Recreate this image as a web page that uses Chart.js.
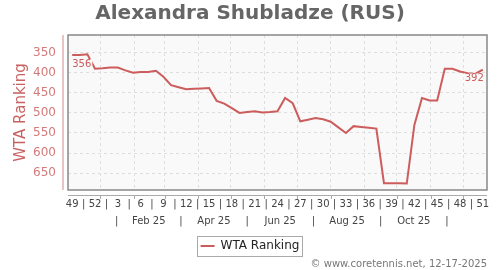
<!DOCTYPE html>
<html>
<head>
<meta charset="utf-8">
<script src="https://cdn.jsdelivr.net/npm/chart.js@4"></script>
<style>
  html, body { margin: 0; padding: 0; background: #fff; }
  #wrap { width: 500px; height: 270px; }
</style>
</head>
<body>
<div id="wrap"><canvas id="rankChart"></canvas></div>
<script>
// weekly WTA ranking, week 49/2024 .. week 51/2025
const weekLabels = [49, 50, 51, 52, 1, 2, 3, 4, 5, 6, 7, 8, 9, 10, 11, 12, 13, 14, 15, 16, 17, 18,
  19, 20, 21, 22, 23, 24, 25, 26, 27, 28, 29, 30, 31, 32, 33, 34, 35, 36, 37, 38, 39, 40, 41, 42,
  43, 44, 45, 46, 47, 48, 49, 50, 51];
const rankings = [356, 356, 354, 390, 389, 387, 387, 394, 400, 398, 398, 395, 410, 431, 436, 441,
  440, 439, 438, 470, 477, 488, 500, 498, 496, 499, 498, 496, 463, 476, 521, 517, 513, 516, 522,
  536, 550, 533, 535, 537, 539, 675, 675, 675, 676, 530, 463, 469, 469, 390, 390, 397, 401, 403, 392];
const yTicks = [350, 400, 450, 500, 550, 600, 650];
const monthNames = ['Feb 25', 'Apr 25', 'Jun 25', 'Aug 25', 'Oct 25'];
const monthGrid = ['2025-01-01', '2025-02-01', '2025-03-01', '2025-04-01', '2025-05-01', '2025-06-01',
  '2025-07-01', '2025-08-01', '2025-09-01', '2025-10-01', '2025-11-01', '2025-12-01'];
const monthBreaks = ['2025-01-16', '2025-03-16', '2025-05-16', '2025-07-16', '2025-09-16', '2025-11-16'];

const lineColor = '#cd5c5c';
const plotBg = '#f9f9f9';

// first data point sits on this date; x unit is one week
const startDay = Date.UTC(2024, 11, 6);
const toWeek = s => (Date.parse(s) - startDay) / (7 * 86400000);

const weekTicks = [];
for (let i = 0; i < weekLabels.length; i += 3) {
  if (i > 0) weekTicks.push(i - 1.5);
  weekTicks.push(i);
}
const monthTicks = [];
monthBreaks.forEach((d, i) => {
  monthTicks.push(toWeek(d));
  if (i < monthBreaks.length - 1) monthTicks.push((toWeek(d) + toWeek(monthBreaks[i + 1])) / 2);
});

const xMin = -0.55, xMax = 54.55;

Chart.defaults.font.family = "'DejaVu Sans', sans-serif";

const decorations = {
  id: 'decorations',
  beforeDraw(chart) {
    const { ctx, chartArea: a } = chart;
    ctx.save();
    ctx.fillStyle = plotBg;
    ctx.fillRect(a.left, a.top, a.width, a.height);
    ctx.restore();
  },
  afterDatasetsDraw(chart) {
    const { ctx } = chart;
    const pts = chart.getDatasetMeta(0).data;
    const first = pts[0], last = pts[pts.length - 1];
    ctx.save();
    ctx.font = "10px 'DejaVu Sans'";
    ctx.textBaseline = 'middle';
    const tag = (text, x, y, align) => {
      const w = ctx.measureText(text).width;
      const left = align === 'left' ? x : x - w;
      ctx.fillStyle = plotBg;
      ctx.fillRect(left - 1, y - 5, w + 2, 10);
      ctx.fillStyle = lineColor;
      ctx.textAlign = align;
      ctx.fillText(text, x, y);
    };
    tag(String(rankings[0]), first.x, first.y + 9, 'left');
    tag(String(rankings[rankings.length - 1]), last.x + 1, last.y + 9, 'right');
    ctx.restore();
  },
  afterDraw(chart) {
    const { ctx, chartArea: a } = chart;
    ctx.save();
    // plot frame
    ctx.strokeStyle = '#888';
    ctx.lineWidth = 1.5;
    ctx.strokeRect(a.left, a.top, a.width, a.height);
    // y axis line
    ctx.strokeStyle = '#e3b0b0';
    ctx.lineWidth = 1.5;
    ctx.beginPath();
    ctx.moveTo(a.left - 5, a.top);
    ctx.lineTo(a.left - 5, a.bottom);
    ctx.stroke();
    // x axis line + month tick marks
    ctx.strokeStyle = '#aaa';
    ctx.lineWidth = 1;
    ctx.beginPath();
    ctx.moveTo(a.left, a.bottom + 5.5);
    ctx.lineTo(a.right, a.bottom + 5.5);
    const xs = chart.scales.x;
    monthGrid.forEach(d => {
      const px = Math.round(xs.getPixelForValue(toWeek(d))) + 0.5;
      ctx.moveTo(px, a.bottom + 5.5);
      ctx.lineTo(px, a.bottom + 9);
    });
    ctx.stroke();
    // legend frame
    const hb = chart.legend.legendHitBoxes[0];
    if (hb) {
      ctx.strokeStyle = '#aaa';
      ctx.strokeRect(Math.round(hb.left - 4) + 0.5, Math.round(hb.top - 4) + 0.5, Math.round(hb.width + 6), 20);
    }
    ctx.restore();
  }
};

new Chart(document.getElementById('rankChart'), {
  type: 'line',
  data: {
    datasets: [{
      label: 'WTA Ranking',
      data: rankings.map((r, i) => ({ x: i, y: r })),
      borderColor: lineColor,
      backgroundColor: lineColor,
      borderWidth: 2,
      pointRadius: 0,
      tension: 0,
      fill: false
    }]
  },
  options: {
    responsive: true,
    maintainAspectRatio: false,
    animation: false,
    layout: { padding: 0 },
    plugins: {
      title: {
        display: true,
        text: 'Alexandra Shubladze (RUS)',
        color: '#666',
        font: { size: 20, weight: 'bold' },
        padding: { top: 2, bottom: 9 }
      },
      subtitle: {
        display: true,
        text: '\u00a9 www.coretennis.net, 12-17-2025',
        position: 'bottom',
        align: 'end',
        fullSize: false,
        color: '#777',
        font: { size: 10 },
        padding: { top: -4, bottom: 0 }
      },
      legend: {
        display: true,
        position: 'bottom',
        labels: {
          usePointStyle: true,
          pointStyle: 'line',
          pointStyleWidth: 14,
          color: '#222',
          font: { size: 12 },
          padding: 12
        }
      },
      tooltip: { enabled: false }
    },
    scales: {
      x: {
        type: 'linear',
        position: 'bottom',
        min: xMin,
        max: xMax,
        afterBuildTicks: s => { s.ticks = monthGrid.map(d => ({ value: toWeek(d) })); },
        ticks: { display: false },
        grid: { color: '#dedede', drawTicks: false },
        border: { display: false, dash: [3, 3] },
        afterFit: s => { s.height = 8; }
      },
      xw: {
        type: 'linear',
        position: 'bottom',
        min: xMin,
        max: xMax,
        afterBuildTicks: s => { s.ticks = weekTicks.map(v => ({ value: v })); },
        ticks: {
          autoSkip: false,
          maxRotation: 0,
          padding: 0,
          color: '#444',
          font: { size: 10 },
          callback: (v, i) => (i % 2 === 0 ? String(weekLabels[v]) : '|')
        },
        grid: { display: false, drawTicks: false },
        border: { display: false },
        afterFit: s => { s.height = 14; }
      },
      xm: {
        type: 'linear',
        position: 'bottom',
        min: xMin,
        max: xMax,
        afterBuildTicks: s => { s.ticks = monthTicks.map(v => ({ value: v })); },
        ticks: {
          autoSkip: false,
          maxRotation: 0,
          padding: 3,
          color: '#444',
          font: { size: 10 },
          callback: (v, i) => (i % 2 === 0 ? '|' : monthNames[(i - 1) / 2])
        },
        grid: { display: false, drawTicks: false },
        border: { display: false },
        afterFit: s => { s.height = 16; }
      },
      y: {
        type: 'linear',
        reverse: true,
        min: 306,
        max: 692,
        afterBuildTicks: s => { s.ticks = yTicks.map(v => ({ value: v })); },
        ticks: { color: '#d47a7a', font: { size: 12 }, padding: 12 },
        grid: { color: '#dedede', drawTicks: false },
        border: { display: false, dash: [3, 3] },
        title: {
          display: true,
          text: 'WTA Ranking',
          color: '#c96262',
          font: { size: 15 },
          padding: { top: 12, bottom: 0 }
        },
        afterFit: s => { s.width = 68; }
      },
      yr: {
        type: 'linear',
        position: 'right',
        display: true,
        ticks: { display: false },
        grid: { display: false, drawTicks: false },
        border: { display: false },
        afterFit: s => { s.width = 13; }
      }
    }
  },
  plugins: [decorations]
});
</script>
</body>
</html>
